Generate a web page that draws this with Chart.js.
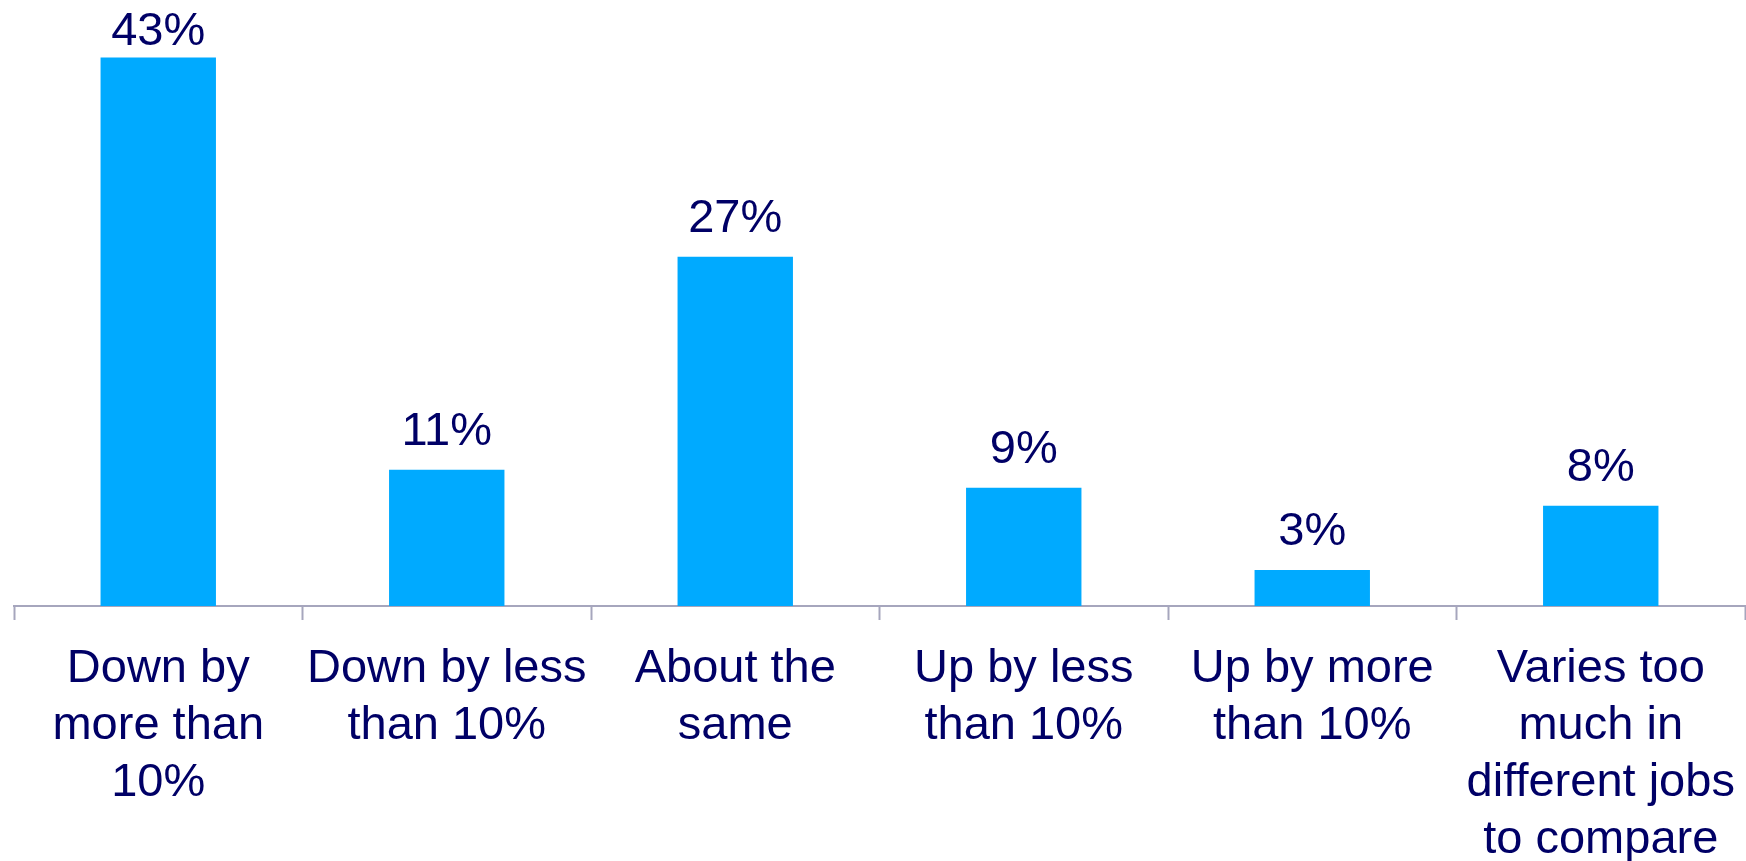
<!DOCTYPE html>
<html>
<head>
<meta charset="utf-8">
<script src="https://cdn.jsdelivr.net/npm/chart.js@4"></script>
<style>
  html, body { margin: 0; padding: 0; background: #ffffff; }
  #wrap { width: 1746px; height: 861px; position: relative; }
</style>
</head>
<body>
<div id="wrap"><canvas id="c" width="1746" height="861"></canvas></div>
<script>
const categories = [
  ["Down by", "more than", "10%"],
  ["Down by less", "than 10%"],
  ["About the", "same"],
  ["Up by less", "than 10%"],
  ["Up by more", "than 10%"],
  ["Varies too", "much in", "different jobs", "to compare"]
];
// bar heights (printed labels are the rounded values)
const values = [42.7, 10.6, 27.2, 9.2, 2.8, 7.8];
const valueLabels = ["43%", "11%", "27%", "9%", "3%", "8%"];

const NAVY = '#000066';
const FONT = "'Liberation Sans', Arial, sans-serif";

const valueLabelPlugin = {
  id: 'valueLabels',
  afterDatasetsDraw(chart) {
    const ctx = chart.ctx;
    const meta = chart.getDatasetMeta(0);
    ctx.save();
    ctx.font = '47px ' + FONT;
    ctx.fillStyle = NAVY;
    ctx.textAlign = 'center';
    ctx.textBaseline = 'alphabetic';
    meta.data.forEach((bar, i) => {
      let y = bar.y - 25;
      if (y < 45) y = 45;
      ctx.fillText(valueLabels[i], bar.x, y);
    });
    ctx.restore();
  }
};

new Chart(document.getElementById('c'), {
  type: 'bar',
  data: {
    labels: categories,
    datasets: [{
      data: values,
      backgroundColor: '#00aaff',
      borderWidth: 0,
      barPercentage: 0.4,
      categoryPercentage: 1.0
    }]
  },
  options: {
    responsive: false,
    animation: false,
    devicePixelRatio: 1,
    layout: { padding: { left: 14, right: 1, top: 28, bottom: 0 } },
    plugins: { legend: { display: false }, tooltip: { enabled: false } },
    scales: {
      x: {
        offset: true,
        grid: {
          offset: true,
          drawOnChartArea: false,
          drawTicks: true,
          tickLength: 14,
          tickWidth: 2,
          tickColor: '#a6a6bd'
        },
        border: { display: true, color: '#a6a6bd', width: 2 },
        ticks: {
          color: NAVY,
          font: { family: FONT, size: 47, lineHeight: 1.215 },
          padding: 20,
          maxRotation: 0,
          minRotation: 0,
          autoSkip: false
        },
        afterFit(scale) {
          scale.height = 255;
          scale.paddingLeft = 0;
          scale.paddingRight = 0;
        }
      },
      y: {
        display: false,
        min: 0,
        max: 45
      }
    }
  },
  plugins: [valueLabelPlugin]
});
</script>
</body>
</html>
